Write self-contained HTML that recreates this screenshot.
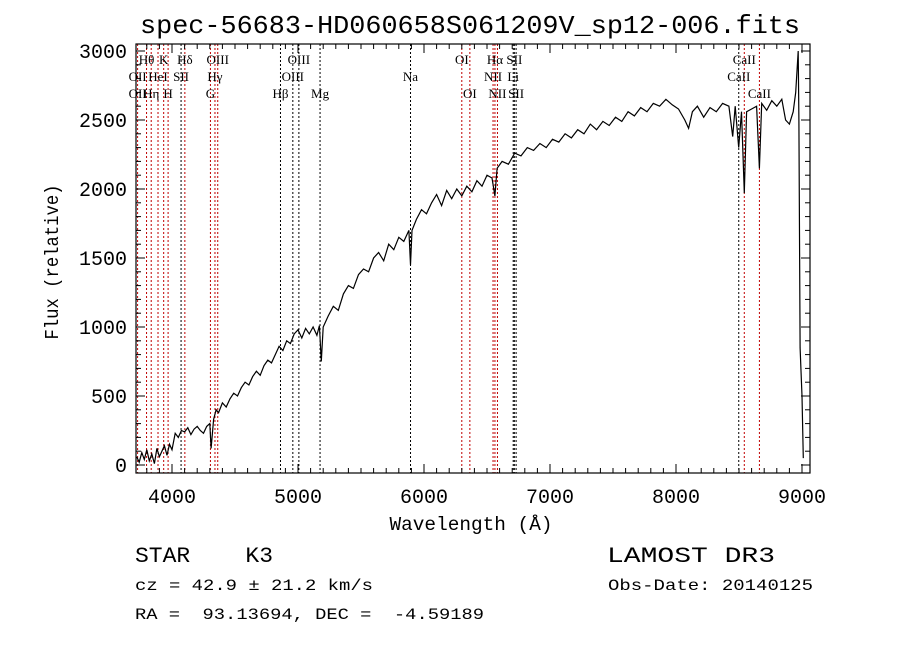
<!DOCTYPE html>
<html><head><meta charset="utf-8"><style>
html,body{margin:0;padding:0;background:#fff;}
svg{display:block;}
text{font-family:"Liberation Mono",monospace;fill:#000;white-space:pre;}
.ln{font-family:"Liberation Serif",serif;font-size:13px;}
</style></head><body>
<svg id="chart" width="900" height="649" viewBox="0 0 900 649" xml:space="preserve">
<rect width="900" height="649" fill="#fff"/>
<text x="470" y="33" font-size="26" text-anchor="middle" textLength="660" lengthAdjust="spacingAndGlyphs">spec-56683-HD060658S061209V_sp12-006.fits</text>
<g id="lines"></g>
<g id="axes"></g>
<path id="spec" fill="none" stroke="#000" stroke-width="1.2"/>
<rect x="136" y="44" width="674" height="429" fill="none" stroke="#000" stroke-width="1.2"/>
<text x="471" y="530" font-size="19" text-anchor="middle" textLength="163" lengthAdjust="spacingAndGlyphs">Wavelength (Å)</text>
<text transform="translate(58,262) rotate(-90)" font-size="19" text-anchor="middle" textLength="155" lengthAdjust="spacingAndGlyphs">Flux (relative)</text>
<text x="135" y="562" font-size="22" textLength="138" lengthAdjust="spacingAndGlyphs">STAR    K3</text>
<text x="607" y="562" font-size="22" textLength="168" lengthAdjust="spacingAndGlyphs">LAMOST DR3</text>
<text x="135" y="590" font-size="16" textLength="238" lengthAdjust="spacingAndGlyphs">cz = 42.9 ± 21.2 km/s</text>
<text x="608" y="590" font-size="16" textLength="205" lengthAdjust="spacingAndGlyphs">Obs-Date: 20140125</text>
<text x="135" y="619" font-size="16" textLength="349" lengthAdjust="spacingAndGlyphs">RA =  93.13694, DEC =  -4.59189</text>
</svg>
<script>
const wavelengths=[3720,3740,3760,3780,3800,3820,3840,3860,3880,3900,3920,3940,3960,3980,4000,4025,4050,4075,4100,4125,4150,4175,4200,4225,4250,4275,4300,4310,4330,4350,4370,4400,4430,4460,4490,4520,4550,4580,4610,4640,4670,4700,4730,4760,4790,4820,4850,4880,4910,4940,4970,5000,5030,5060,5090,5120,5150,5170,5185,5200,5240,5280,5320,5360,5400,5440,5480,5520,5560,5600,5640,5680,5720,5760,5800,5840,5880,5893,5905,5940,5980,6020,6060,6100,6140,6180,6220,6260,6300,6340,6380,6420,6460,6500,6540,6563,6580,6620,6670,6720,6770,6820,6870,6920,6970,7020,7070,7120,7170,7220,7270,7320,7370,7420,7470,7520,7570,7620,7670,7720,7770,7820,7870,7920,7970,8020,8070,8100,8130,8170,8220,8270,8320,8370,8420,8450,8470,8498,8520,8542,8560,8600,8640,8662,8680,8720,8760,8800,8840,8870,8900,8930,8950,8970,8975,8985,9000,9010];
const flux=[60,20,90,40,110,30,80,10,120,60,100,140,70,150,110,230,200,250,240,270,220,260,280,250,230,280,300,120,330,400,380,450,420,480,520,500,560,600,580,640,680,650,720,760,740,800,860,830,900,880,950,980,920,990,950,1000,940,1010,750,1000,1080,1150,1120,1240,1300,1280,1380,1420,1400,1500,1540,1480,1600,1560,1650,1620,1700,1450,1700,1780,1850,1820,1900,1960,1880,1990,1930,2000,1950,2020,1980,2060,2020,2100,2080,1950,2150,2200,2180,2260,2240,2300,2280,2330,2300,2360,2340,2400,2370,2430,2400,2470,2430,2490,2460,2520,2490,2560,2530,2590,2560,2620,2600,2650,2610,2580,2500,2440,2560,2600,2520,2590,2560,2620,2600,2380,2600,2300,2560,1970,2560,2580,2600,2150,2620,2570,2640,2600,2650,2500,2470,2560,2700,3000,2500,850,500,50];
const lineWl=[3727,3798,3835,3889,3934,3969,4072,4102,4305,4341,4363,4861,4959,5007,5175,5893,6300,6364,6548,6563,6583,6708,6717,6731,8498,8542,8662];
const lineRed=[1,1,1,1,1,1,0,1,1,1,1,0,0,0,0,0,1,1,1,1,1,0,0,0,0,1,1];
const labels=[["Hθ",3798,1],["K",3934,1],["Hδ",4102,1],["OIII",4363,1],["OIII",5007,1],["OI",6300,1],["Hα",6563,1],["SII",6717,1],["CaII",8542,1],
["OII",3727,2],["HeI",3889,2],["SII",4072,2],["Hγ",4341,2],["OIII",4959,2],["Na",5893,2],["NII",6548,2],["Li",6708,2],["CaII",8498,2],
["OII",3727,3],["Hη",3835,3],["H",3969,3],["G",4305,3],["Hβ",4861,3],["Mg",5175,3],["OI",6364,3],["NII",6583,3],["SII",6731,3],["CaII",8662,3]];
const xTicks=[4000,5000,6000,7000,8000,9000];
const yTicks=[0,500,1000,1500,2000,2500,3000];
const NS="http://www.w3.org/2000/svg";
const X=w=>172+(w-4000)*0.126;
const Y=f=>465-f*0.138;
function mk(tag,attrs,parent){const e=document.createElementNS(NS,tag);for(const k in attrs)e.setAttribute(k,attrs[k]);parent.appendChild(e);return e;}
const gl=document.getElementById('lines');
lineWl.forEach((w,i)=>{const l=mk('line',{x1:X(w),x2:X(w),y1:44,y2:473,stroke:lineRed[i]?'#c00000':'#000','stroke-width':1,'stroke-dasharray':'2,2'},gl);

});
labels.forEach(([t,w,r])=>{const x=X(w);const e=mk('text',{x:x,y:47+r*17,'text-anchor':'middle',class:'ln'},gl);e.textContent=t;

});
const ga=document.getElementById('axes');
for(let w=3800;w<=9000;w+=100){const x=X(w);const major=w%1000===0;const L=major?9:5;
mk('line',{x1:x,x2:x,y1:473,y2:473-L,stroke:'#000'},ga);mk('line',{x1:x,x2:x,y1:44,y2:44+L,stroke:'#000'},ga);}
xTicks.forEach(w=>{const t=mk('text',{x:X(w),y:503,'font-size':20,'text-anchor':'middle'},ga);t.textContent=w;

});
for(let f=-400;f<=3000;f+=100){const y=Y(f);if(y>473||y<44)continue;const major=f%500===0;const L=major?9:5;
mk('line',{x1:136,x2:136+L,y1:y,y2:y,stroke:'#000'},ga);mk('line',{x1:810,x2:810-L,y1:y,y2:y,stroke:'#000'},ga);}
yTicks.forEach(f=>{const t=mk('text',{x:127,y:Y(f)+7,'font-size':20,'text-anchor':'end'},ga);t.textContent=f;

});
let d='';wavelengths.forEach((w,i)=>{d+=(i?'L':'M')+X(w).toFixed(1)+','+Y(flux[i]).toFixed(1);});
document.getElementById('spec').setAttribute('d',d);
</script>
</body></html>
